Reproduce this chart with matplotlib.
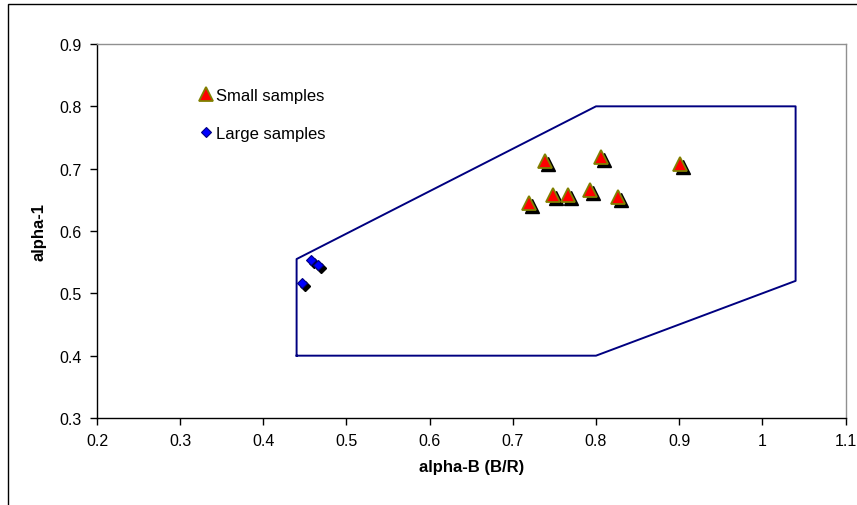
import matplotlib
matplotlib.use("Agg")
import matplotlib.pyplot as plt
import matplotlib.transforms as mtransforms
from matplotlib.patches import Rectangle

plt.rcParams['font.family'] = ['Liberation Sans', 'DejaVu Sans']

# data
small_x = [0.739, 0.806, 0.901, 0.719, 0.748, 0.766, 0.793, 0.826]
small_y = [0.712, 0.718, 0.707, 0.645, 0.657, 0.657, 0.666, 0.654]
large_x = [0.457, 0.466, 0.446]
large_y = [0.553, 0.546, 0.517]
region_x = [0.44, 0.44, 0.80, 1.04, 1.04, 0.80, 0.44]
region_y = [0.40, 0.555, 0.80, 0.80, 0.52, 0.40, 0.40]
xticks = [0.2, 0.3, 0.4, 0.5, 0.6, 0.7, 0.8, 0.9, 1.0, 1.1]
yticks = [0.3, 0.4, 0.5, 0.6, 0.7, 0.8, 0.9]

fig = plt.figure(figsize=(8.57, 5.06), dpi=100)
ax = fig.add_axes([97 / 857, 1 - 419 / 506, 748.5 / 857, 374 / 506])

# outer chart frame (only left and top visible in the original)
fig.patches.append(Rectangle((8 / 857, -0.2), 1.2, 1.2 - 5 / 506,
                             transform=fig.transFigure, fill=False,
                             edgecolor='black', linewidth=1.0))

ax.plot(region_x, region_y, color='#000080', linewidth=1.4, zorder=2)

shadow = mtransforms.offset_copy(ax.transData, fig=fig, x=3, y=-3, units='dots')
ax.plot(small_x, small_y, linestyle='none', marker='^', markersize=10,
        color='black', transform=shadow, zorder=3)
ax.plot(large_x, large_y, linestyle='none', marker='D', markersize=5.5,
        color='black', transform=shadow, zorder=3)

ax.plot(small_x, small_y, linestyle='none', marker='^', markersize=10,
        markerfacecolor='#FF0000', markeredgecolor='#808000',
        markeredgewidth=1.3, label='Small samples', zorder=4)
ax.plot(large_x, large_y, linestyle='none', marker='D', markersize=5.5,
        markerfacecolor='#0000FF', markeredgecolor='#000080',
        markeredgewidth=0.8, label='Large samples', zorder=4)

ax.set_xlim(0.2, 1.1)
ax.set_ylim(0.3, 0.9)
ax.set_xticks(xticks)
ax.set_xticklabels(['0.2', '0.3', '0.4', '0.5', '0.6', '0.7', '0.8', '0.9', '1', '1.1'])
ax.set_yticks(yticks)
ax.set_yticklabels([f'{v:.1f}' for v in yticks])
ax.tick_params(direction='out', length=5, width=1, labelsize=11.5, pad=6)

ax.spines['left'].set_color('black')
ax.spines['bottom'].set_color('black')
ax.spines['top'].set_color('#909090')
ax.spines['right'].set_color('#909090')
for s in ax.spines.values():
    s.set_linewidth(1.0)

ax.set_xlabel('alpha-B (B/R)', fontsize=12, fontweight='bold', labelpad=8)
ax.set_ylabel('alpha-1', fontsize=12, fontweight='bold', labelpad=9)

ax.legend(loc='upper left', bbox_to_anchor=(0.135, 0.882), frameon=False,
          fontsize=12, handletextpad=0.1, labelspacing=1.35,
          handlelength=1.0, borderaxespad=0, borderpad=0)

fig.savefig('out.png', dpi=100)
